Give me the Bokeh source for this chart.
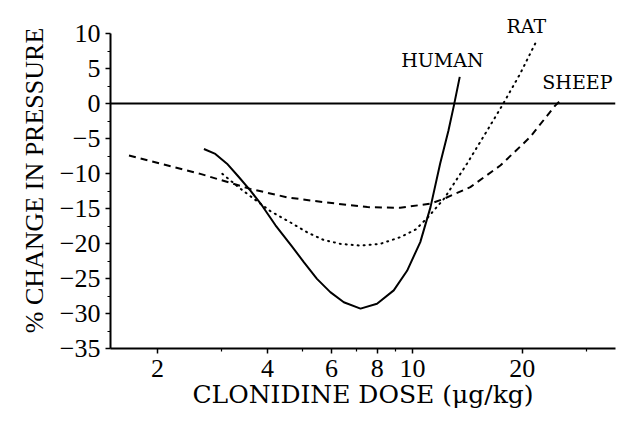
from bokeh.plotting import figure
from bokeh.models import Range1d, FixedTicker, Span
from bokeh.core.properties import value
from bokeh.embed import file_html
from bokeh.resources import INLINE

# ---- data ----
human_x = [2.68, 2.88, 3.10, 3.34, 3.59, 3.87, 4.21, 4.67, 5.04, 5.47, 5.95, 6.48, 7.2, 7.99, 8.88, 9.66, 10.5, 11.2, 11.9, 12.54, 12.98, 13.47]
human_y = [-6.5, -7.2, -8.6, -10.5, -12.4, -14.6, -17.4, -20.4, -22.7, -25.05, -26.95, -28.4, -29.3, -28.6, -26.7, -23.9, -19.8, -14.8, -8.6, -3.9, -0.3, 3.8]

rat_x = [3.01, 3.38, 3.67, 4.08, 4.63, 5.14, 5.71, 6.34, 7.2, 8.16, 9.25, 10.2, 11.0, 12.2, 14.1, 16.0, 17.6, 19.7, 21.9]
rat_y = [-10.05, -12.2, -13.6, -15.4, -17.0, -18.4, -19.5, -20.05, -20.3, -20.05, -19.1, -18.0, -16.3, -13.6, -8.6, -3.9, -0.3, 4.2, 9.0]

sheep_x = [1.67, 2.62, 3.59, 4.53, 5.71, 7.52, 9.25, 11.2, 12.2, 14.4, 17.4, 21.0, 24.6, 25.7]
sheep_y = [-7.43, -10.05, -12.2, -13.4, -14.1, -14.8, -14.9, -14.3, -13.6, -11.95, -8.86, -4.8, -0.3, 0.67]

label_text = ["HUMAN", "RAT", "SHEEP"]
label_x = [12.07, 20.5, 28.3]
label_y = [6.2, 11.1, 3.1]

x_ticks = [2, 4, 6, 8, 10, 20]
x_minor = [3, 5, 7, 9, 30]
y_ticks = [-35, -30, -25, -20, -15, -10, -5, 0, 5, 10]
y_minor = [-32.5, -27.5, -22.5, -17.5, -12.5, -7.5, -2.5, 2.5, 7.5]

FONT = "DejaVu Serif"
TFONT = "Liberation Serif"

p = figure(width=623, height=423, x_axis_type="log",
           x_range=Range1d(1.486, 36), y_range=Range1d(-35, 13),
           output_backend="svg", toolbar_location=None,
           min_border_left=110, min_border_right=8, min_border_top=12, min_border_bottom=75)
p.outline_line_color = None
p.xgrid.visible = False
p.ygrid.visible = False
p.background_fill_color = "white"
p.border_fill_color = "white"

p.add_layout(Span(location=0, dimension="width", line_color="black", line_width=2))

p.line(human_x, human_y, line_color="black", line_width=2, line_join="round")
p.line(rat_x, rat_y, line_color="black", line_width=2, line_dash="1 5", line_cap="round")
p.line(sheep_x, sheep_y, line_color="black", line_width=2, line_dash="7 5")

p.text(x=label_x, y=label_y, text=label_text, text_font=value(FONT),
       text_font_size=value("19px"), text_align="center", text_baseline="middle",
       text_color="black")

xa = p.xaxis[0]
xa.ticker = FixedTicker(ticks=x_ticks, minor_ticks=x_minor)
xa.major_label_overrides = {t: str(t) for t in x_ticks}
xa.axis_label = "CLONIDINE DOSE (μg/kg)"

ya = p.yaxis[0]
ya.ticker = FixedTicker(ticks=y_ticks, minor_ticks=y_minor)
ya.major_label_overrides = {t: str(t).replace("-", "\u2212") for t in y_ticks}
ya.axis_label = "% CHANGE IN PRESSURE"
ya.bounds = (-35, 10)

for ax in (xa, ya):
    ax.axis_line_width = 2
    ax.axis_line_color = "black"
    ax.major_tick_line_width = 1.5
    ax.minor_tick_line_width = 1.2
    ax.major_tick_out = 5
    ax.major_tick_in = 0
    ax.minor_tick_out = 3
    ax.minor_tick_in = 0
    ax.major_label_text_font = TFONT
    ax.major_label_text_font_size = "26px"
    ax.major_label_text_color = "black"
    ax.axis_label_text_font_style = "normal"
    ax.axis_label_text_color = "black"

xa.axis_label_text_font = FONT
ya.axis_label_text_font = TFONT
xa.axis_label_text_font_size = "25px"
ya.axis_label_text_font_size = "26px"
xa.major_label_standoff = 6
xa.axis_label_standoff = 0
ya.major_label_standoff = 5
ya.axis_label_standoff = 8

open("out.html", "w").write(file_html(p, INLINE))
